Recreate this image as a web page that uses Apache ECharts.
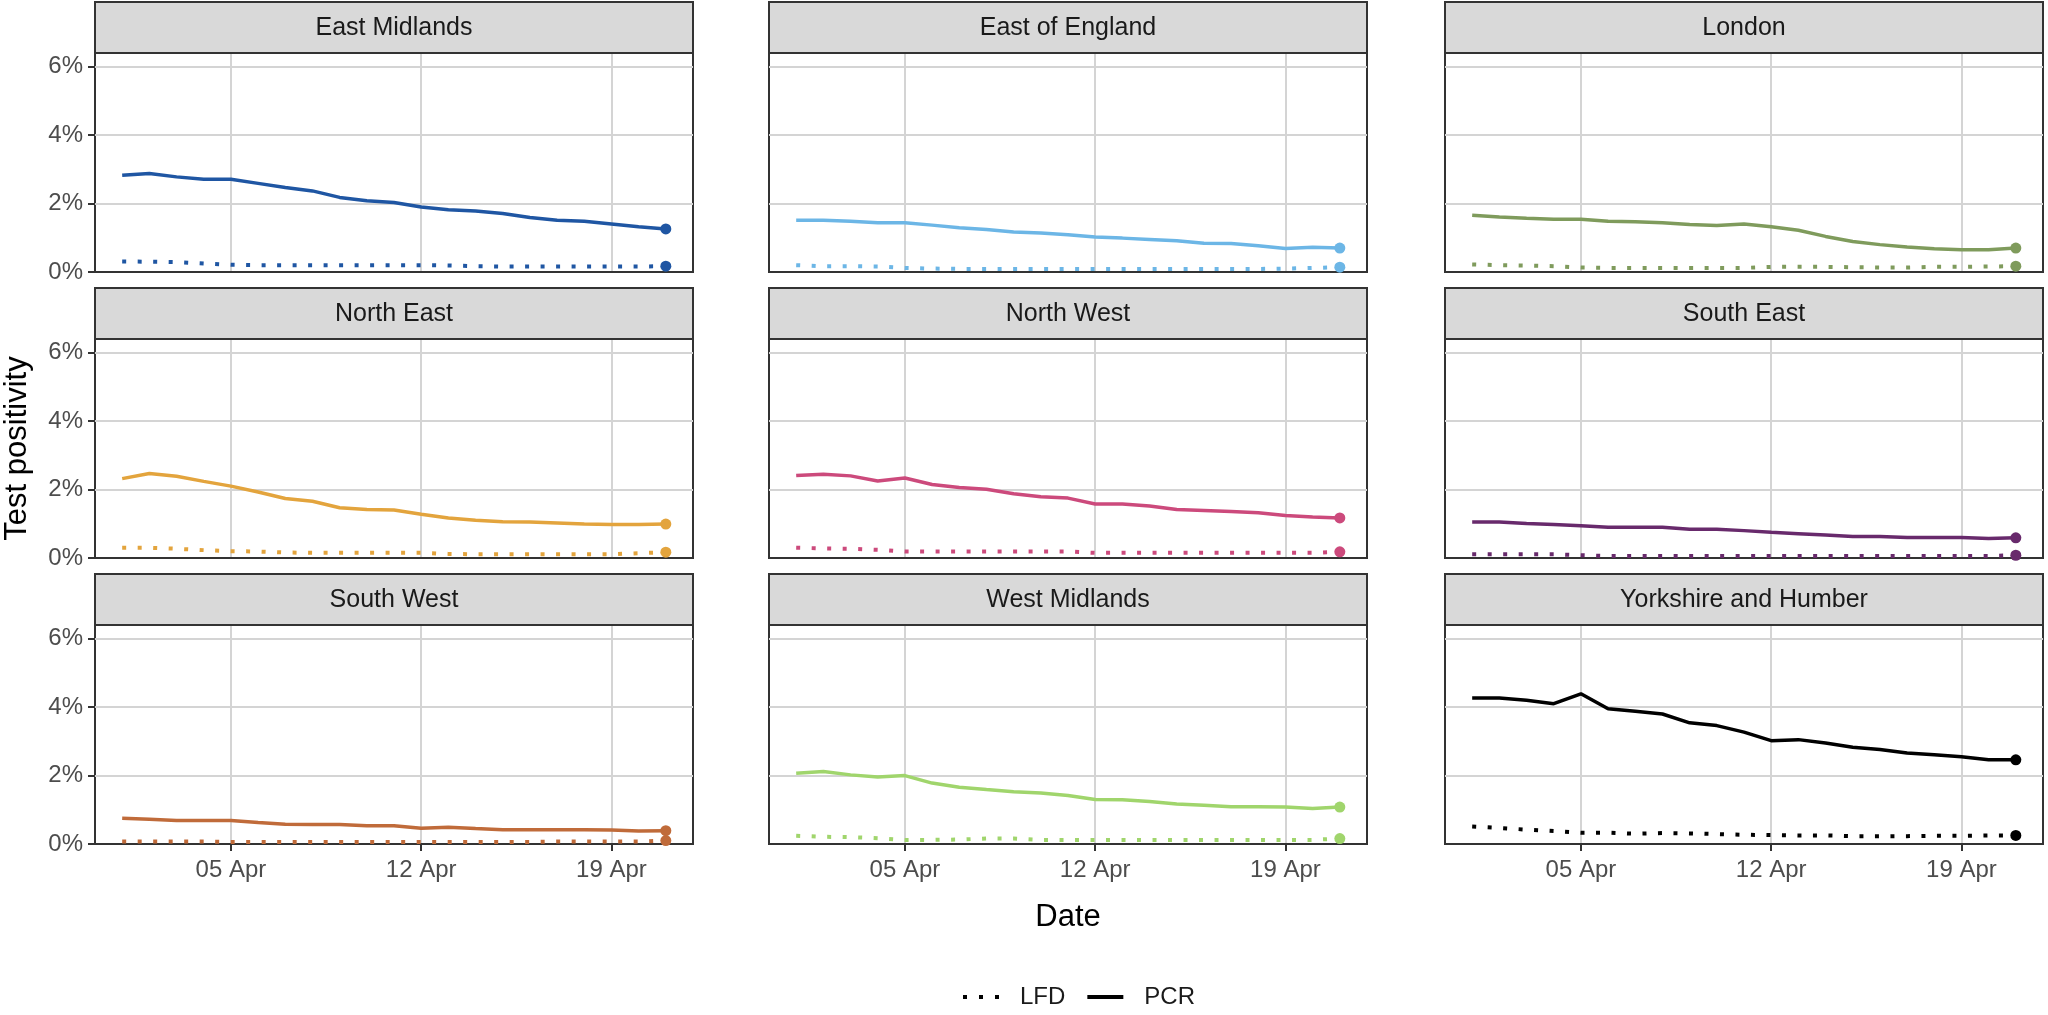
<!DOCTYPE html>
<html>
<head>
<meta charset="utf-8">
<title>Test positivity by region</title>
<script src="https://cdn.jsdelivr.net/npm/echarts@6/dist/echarts.min.js"></script>
<style>
  html, body { margin: 0; padding: 0; background: #fff; }
  #chart { width: 2048px; height: 1015px; }
</style>
</head>
<body>
<div id="chart"></div>
<script>
// one value per day, 1 Apr .. 21 Apr 2021
var dates = ['2021-04-01', '2021-04-02', '2021-04-03', '2021-04-04', '2021-04-05', '2021-04-06', '2021-04-07',
  '2021-04-08', '2021-04-09', '2021-04-10', '2021-04-11', '2021-04-12', '2021-04-13', '2021-04-14',
  '2021-04-15', '2021-04-16', '2021-04-17', '2021-04-18', '2021-04-19', '2021-04-20', '2021-04-21'];

var regions = ['East Midlands', 'East of England', 'London', 'North East', 'North West',
  'South East', 'South West', 'West Midlands', 'Yorkshire and Humber'];
var regionColours = ['#1f56a3', '#6cb6e6', '#7f9b5c', '#e3a43d', '#cc4a7c',
  '#682a6c', '#c06b3a', '#a0d56c', '#000000'];

// PCR test positivity (%)
var pcrEastMidlands = [2.83, 2.88, 2.78, 2.71, 2.71, 2.59, 2.47, 2.37, 2.18, 2.08, 2.03, 1.90, 1.82, 1.78, 1.71, 1.59, 1.51, 1.48, 1.40, 1.32, 1.26];
var pcrEastEngland = [1.51, 1.51, 1.48, 1.44, 1.44, 1.37, 1.29, 1.24, 1.17, 1.14, 1.09, 1.02, 0.99, 0.95, 0.91, 0.84, 0.83, 0.77, 0.69, 0.72, 0.70];
var pcrLondon = [1.66, 1.61, 1.57, 1.54, 1.54, 1.48, 1.47, 1.44, 1.39, 1.36, 1.40, 1.32, 1.22, 1.04, 0.89, 0.80, 0.73, 0.68, 0.65, 0.65, 0.70];
var pcrNorthEast = [2.32, 2.47, 2.39, 2.24, 2.10, 1.93, 1.74, 1.66, 1.47, 1.42, 1.40, 1.28, 1.17, 1.10, 1.06, 1.05, 1.02, 0.99, 0.98, 0.98, 0.99];
var pcrNorthWest = [2.41, 2.45, 2.40, 2.25, 2.34, 2.15, 2.06, 2.01, 1.88, 1.79, 1.75, 1.58, 1.58, 1.52, 1.42, 1.39, 1.36, 1.32, 1.24, 1.20, 1.17];
var pcrSouthEast = [1.05, 1.05, 1.01, 0.98, 0.94, 0.90, 0.90, 0.90, 0.84, 0.84, 0.80, 0.75, 0.71, 0.67, 0.63, 0.63, 0.60, 0.60, 0.60, 0.57, 0.59];
var pcrSouthWest = [0.75, 0.72, 0.69, 0.69, 0.69, 0.63, 0.58, 0.57, 0.57, 0.53, 0.53, 0.46, 0.49, 0.45, 0.42, 0.42, 0.42, 0.42, 0.41, 0.38, 0.39];
var pcrWestMidlands = [2.07, 2.12, 2.02, 1.96, 2.00, 1.78, 1.66, 1.59, 1.53, 1.49, 1.42, 1.30, 1.29, 1.24, 1.17, 1.13, 1.09, 1.09, 1.08, 1.04, 1.08];
var pcrYorkshire = [4.27, 4.27, 4.20, 4.10, 4.39, 3.95, 3.88, 3.80, 3.54, 3.46, 3.27, 3.02, 3.05, 2.95, 2.83, 2.76, 2.66, 2.61, 2.55, 2.46, 2.46];

// LFD test positivity (%)
var lfdEastMidlands = [0.31, 0.30, 0.29, 0.25, 0.21, 0.20, 0.20, 0.20, 0.20, 0.20, 0.20, 0.20, 0.19, 0.17, 0.16, 0.16, 0.16, 0.16, 0.16, 0.16, 0.17];
var lfdEastEngland = [0.20, 0.17, 0.17, 0.16, 0.12, 0.10, 0.09, 0.09, 0.09, 0.09, 0.09, 0.09, 0.09, 0.09, 0.09, 0.09, 0.09, 0.09, 0.10, 0.12, 0.14];
var lfdLondon = [0.22, 0.20, 0.19, 0.17, 0.13, 0.12, 0.12, 0.12, 0.12, 0.12, 0.12, 0.15, 0.15, 0.15, 0.14, 0.13, 0.13, 0.15, 0.15, 0.16, 0.17];
var lfdNorthEast = [0.30, 0.30, 0.27, 0.23, 0.20, 0.19, 0.16, 0.15, 0.15, 0.15, 0.15, 0.15, 0.12, 0.11, 0.11, 0.11, 0.11, 0.11, 0.11, 0.14, 0.17];
var lfdNorthWest = [0.30, 0.28, 0.27, 0.24, 0.19, 0.19, 0.19, 0.19, 0.19, 0.19, 0.19, 0.15, 0.15, 0.15, 0.15, 0.15, 0.15, 0.15, 0.15, 0.15, 0.18];
var lfdSouthEast = [0.11, 0.11, 0.11, 0.11, 0.08, 0.06, 0.06, 0.06, 0.06, 0.06, 0.06, 0.06, 0.06, 0.06, 0.06, 0.06, 0.06, 0.06, 0.06, 0.06, 0.08];
var lfdSouthWest = [0.07, 0.07, 0.07, 0.07, 0.06, 0.06, 0.06, 0.06, 0.06, 0.06, 0.06, 0.06, 0.06, 0.06, 0.06, 0.06, 0.07, 0.07, 0.07, 0.07, 0.10];
var lfdWestMidlands = [0.24, 0.21, 0.20, 0.17, 0.12, 0.12, 0.13, 0.16, 0.16, 0.12, 0.12, 0.12, 0.12, 0.12, 0.12, 0.12, 0.12, 0.12, 0.12, 0.12, 0.16];
var lfdYorkshire = [0.51, 0.47, 0.42, 0.38, 0.33, 0.33, 0.30, 0.32, 0.31, 0.29, 0.27, 0.26, 0.25, 0.25, 0.23, 0.23, 0.23, 0.24, 0.24, 0.25, 0.25];

var xTickDates = ['2021-04-05', '2021-04-12', '2021-04-19'];
var yTicks = [0, 2, 4, 6];

var pcr = [pcrEastMidlands, pcrEastEngland, pcrLondon, pcrNorthEast, pcrNorthWest,
  pcrSouthEast, pcrSouthWest, pcrWestMidlands, pcrYorkshire];
var lfd = [lfdEastMidlands, lfdEastEngland, lfdLondon, lfdNorthEast, lfdNorthWest,
  lfdSouthEast, lfdSouthWest, lfdWestMidlands, lfdYorkshire];

var chart = echarts.init(document.getElementById('chart'));

// x axis runs in days counted from 31 Mar
var base = Date.UTC(2021, 2, 31);
var months = ['Jan', 'Feb', 'Mar', 'Apr', 'May', 'Jun', 'Jul', 'Aug', 'Sep', 'Oct', 'Nov', 'Dec'];
function dayNum(s) {
  return Math.round((Date.parse(s + 'T00:00:00Z') - base) / 86400000);
}
function dayLabel(v) {
  var d = new Date(base + v * 86400000);
  return ('0' + d.getUTCDate()).slice(-2) + ' ' + months[d.getUTCMonth()];
}
var xTicks = xTickDates.map(dayNum);
var lastIdx = dates.length - 1;

var font = 'Liberation Sans, Arial, sans-serif';
var colLeft = [95, 769, 1445], panelW = 598;
var rowTop = [2, 288, 574], stripH = 51, panelH = 219;

var grids = [], xAxes = [], yAxes = [], series = [], graphics = [];

regions.forEach(function (name, i) {
  var r = Math.floor(i / 3), c = i % 3;
  var col = regionColours[i];

  grids.push({
    left: colLeft[c], top: rowTop[r] + stripH, width: panelW, height: panelH,
    show: true, borderColor: '#333', borderWidth: 2
  });

  xAxes.push({
    gridIndex: i, type: 'value', min: 0, max: 22,
    // dark bottom edge drawn over the 0% grid line
    axisLine: { show: true, onZero: false, lineStyle: { color: '#333', width: 2 } },
    axisTick: { show: r === 2, length: 7, customValues: xTicks, lineStyle: { color: '#333', width: 2 } },
    axisLabel: { show: r === 2, customValues: xTicks, formatter: dayLabel, margin: 14,
      fontSize: 24, color: '#4d4d4d', fontFamily: font },
    splitLine: { show: true, lineStyle: { color: '#d4d4d4', width: 2 } },
    name: (r === 2 && c === 1) ? 'Date' : '',
    nameLocation: 'middle', nameGap: 58,
    nameTextStyle: { fontSize: 31, color: '#000', fontFamily: font }
  });

  yAxes.push({
    gridIndex: i, type: 'value', min: 0, max: 6.4,
    axisLine: { show: false },
    axisTick: { show: c === 0, length: 7, customValues: yTicks, lineStyle: { color: '#333', width: 2 } },
    axisLabel: { show: c === 0, customValues: yTicks, formatter: function (v) { return v + '%'; },
      margin: 12, fontSize: 24, color: '#4d4d4d', fontFamily: font },
    splitLine: { show: true, lineStyle: { color: '#d4d4d4', width: 2 } },
    name: (c === 0 && r === 1) ? 'Test positivity' : '',
    nameLocation: 'middle', nameGap: 62, nameRotate: 90,
    nameTextStyle: { fontSize: 31, color: '#000', fontFamily: font }
  });

  var endDot = function (v, p) { return p.dataIndex === lastIdx ? 11 : 0; };

  series.push({
    name: 'LFD', type: 'line', xAxisIndex: i, yAxisIndex: i,
    data: dates.map(function (d, k) { return [dayNum(d), lfd[i][k]]; }),
    symbol: 'circle', showSymbol: true, showAllSymbol: true, symbolSize: endDot,
    itemStyle: { color: col }, lineStyle: { color: col, width: 4, type: [4, 11.5], cap: 'butt' },
    emphasis: { disabled: true }, animation: false, z: 3
  });
  series.push({
    name: 'PCR', type: 'line', xAxisIndex: i, yAxisIndex: i,
    data: dates.map(function (d, k) { return [dayNum(d), pcr[i][k]]; }),
    symbol: 'circle', showSymbol: true, showAllSymbol: true, symbolSize: endDot,
    itemStyle: { color: col }, lineStyle: { color: col, width: 3.5 },
    emphasis: { disabled: true }, animation: false, z: 3
  });

  // facet strip
  graphics.push({
    type: 'rect', z: 10,
    shape: { x: colLeft[c], y: rowTop[r], width: panelW, height: stripH },
    style: { fill: '#d9d9d9', stroke: '#333', lineWidth: 2 }
  });
  graphics.push({
    type: 'text', z: 11,
    x: colLeft[c] + panelW / 2, y: rowTop[r] + stripH / 2 + 1,
    style: { text: name, fill: '#1a1a1a', font: '25px ' + font,
      align: 'center', verticalAlign: 'middle', textAlign: 'center', textVerticalAlign: 'middle' }
  });
});

chart.setOption({
  backgroundColor: '#fff',
  animation: false,
  textStyle: { fontFamily: font },
  grid: grids,
  xAxis: xAxes,
  yAxis: yAxes,
  series: series,
  graphic: graphics,
  legend: {
    left: 958, top: 980,
    itemWidth: 36, itemHeight: 4, itemGap: 22,
    selectedMode: false,
    textStyle: { fontSize: 24, color: '#1a1a1a', fontFamily: font, padding: [0, 0, 0, 16] },
    data: [
      { name: 'LFD', icon: 'path://M0,0h4v4h-4zM16,0h4v4h-4zM32,0h4v4h-4z', itemStyle: { color: '#000', borderWidth: 0 } },
      { name: 'PCR', icon: 'rect', itemStyle: { color: '#000', borderWidth: 0 } }
    ]
  }
});
</script>
</body>
</html>
